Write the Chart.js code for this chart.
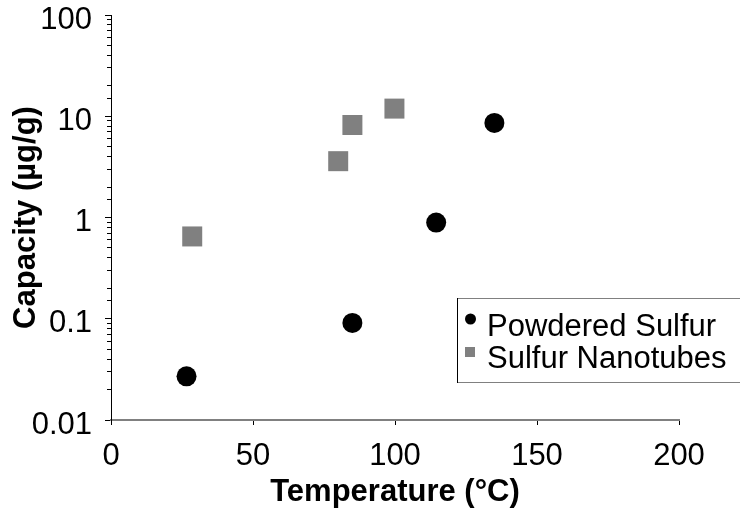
<!DOCTYPE html>
<html>
<head>
<meta charset="utf-8">
<script src="https://cdn.jsdelivr.net/npm/chart.js@4.4.1/dist/chart.umd.min.js"></script>
<style>
  html, body { margin: 0; padding: 0; background: #ffffff; }
  #wrap { width: 740px; height: 513px; position: relative; }
</style>
</head>
<body>
<div id="wrap"><canvas id="c" width="740" height="513"></canvas></div>
<script>
// ---- Data ----
const powderedLabel = 'Powdered Sulfur';
const powderedTemp = [26.6, 85, 114.5, 135];
const powderedCap  = [0.027, 0.091, 0.89, 8.6];

const nanoLabel = 'Sulfur Nanotubes';
const nanoTemp = [28.6, 80, 85, 99.8];
const nanoCap  = [0.65, 3.6, 8.2, 11.9];

const xTickValues = [0, 50, 100, 150, 200];
const yTickLabels = ['0.01', '0.1', '1', '10', '100'];

const xTitle = 'Temperature (°C)';
const yTitle = 'Capacity (µg/g)';

const FONT = '"Liberation Sans", Arial, Helvetica, sans-serif';
const FS = 31;

function toPoints(xs, ys) { return xs.map((x, i) => ({ x: x, y: ys[i] })); }

function isDecade(v) {
  const l = Math.log10(v);
  return Math.abs(l - Math.round(l)) < 1e-9;
}

const legendBox = {
  id: 'legendBox',
  afterDraw(chart) {
    const ctx = chart.ctx;
    ctx.save();
    ctx.lineWidth = 1;
    ctx.strokeStyle = '#808080';
    ctx.beginPath();
    ctx.moveTo(457.5, 382.5);
    ctx.lineTo(745, 382.5);
    ctx.moveTo(457.5, 298.5);
    ctx.lineTo(745, 298.5);
    ctx.stroke();
    ctx.strokeStyle = '#000000';
    ctx.beginPath();
    ctx.moveTo(457.5, 298);
    ctx.lineTo(457.5, 383);
    ctx.stroke();

    const ds = chart.data.datasets;
    ctx.font = FS + 'px ' + FONT;
    ctx.textBaseline = 'alphabetic';
    ctx.textAlign = 'left';
    // item 1: circle
    ctx.fillStyle = ds[0].backgroundColor;
    ctx.beginPath();
    ctx.arc(470.5, 319, 5.5, 0, Math.PI * 2);
    ctx.fill();
    ctx.fillStyle = '#000000';
    ctx.fillText(ds[0].label, 487, 336);
    // item 2: square
    ctx.fillStyle = ds[1].backgroundColor;
    ctx.fillRect(465, 347, 10, 10);
    ctx.fillStyle = '#000000';
    ctx.fillText(ds[1].label, 487, 368);
    ctx.restore();
  }
};

new Chart(document.getElementById('c'), {
  type: 'scatter',
  data: {
    datasets: [
      {
        label: powderedLabel,
        data: toPoints(powderedTemp, powderedCap),
        backgroundColor: '#000000',
        borderWidth: 0,
        pointStyle: 'circle',
        pointRadius: 10,
        pointHoverRadius: 10
      },
      {
        label: nanoLabel,
        data: toPoints(nanoTemp, nanoCap),
        backgroundColor: '#808080',
        borderWidth: 0,
        pointStyle: 'rect',
        pointRadius: 14.14,
        pointHoverRadius: 14.14
      }
    ]
  },
  options: {
    responsive: false,
    animation: false,
    devicePixelRatio: 1,
    layout: { padding: { left: 0, top: 15, right: 61, bottom: 0 } },
    plugins: {
      legend: { display: false },
      tooltip: { enabled: false }
    },
    scales: {
      x: {
        type: 'linear',
        min: 0,
        max: 200,
        afterBuildTicks(scale) { scale.ticks = xTickValues.map(v => ({ value: v })); },
        afterFit(scale) { scale.height = 93; scale.paddingLeft = 0; scale.paddingRight = 0; },
        border: { display: true, color: '#808080', width: 2 },
        grid: { display: true, drawOnChartArea: false, drawTicks: true, tickLength: 5, tickColor: '#000000', tickWidth: 1 },
        ticks: {
          color: '#000000',
          padding: 13,
          maxRotation: 0,
          autoSkip: false,
          font: { family: FONT, size: FS }
        },
        title: {
          display: true,
          text: xTitle,
          color: '#000000',
          font: { family: FONT, size: FS, weight: 'bold' },
          padding: { top: 0, bottom: 2 }
        }
      },
      y: {
        type: 'logarithmic',
        min: 0.01,
        max: 100,
        afterFit(scale) { scale.width = 111; scale.paddingTop = 0; scale.paddingBottom = 0; },
        border: { display: true, color: '#000000', width: 1 },
        grid: {
          display: true,
          drawOnChartArea: false,
          drawTicks: true,
          tickLength: 6,
          tickColor: '#000000',
          tickWidth: 1,
          tickBorderDash: (ctx) => (ctx.tick && isDecade(ctx.tick.value)) ? [] : [0, 2, 4]
        },
        ticks: {
          color: '#000000',
          padding: 13,
          labelOffset: 5,
          autoSkip: false,
          font: { family: FONT, size: FS, lineHeight: 1 },
          callback: function (value) {
            if (!isDecade(value)) return '';
            const idx = Math.round(Math.log10(value)) + 2;
            return yTickLabels[idx];
          }
        },
        title: {
          display: true,
          text: yTitle,
          color: '#000000',
          font: { family: FONT, size: FS, weight: 'bold' },
          padding: { top: 8, bottom: 0 }
        }
      }
    }
  },
  plugins: [legendBox]
});
</script>
</body>
</html>
